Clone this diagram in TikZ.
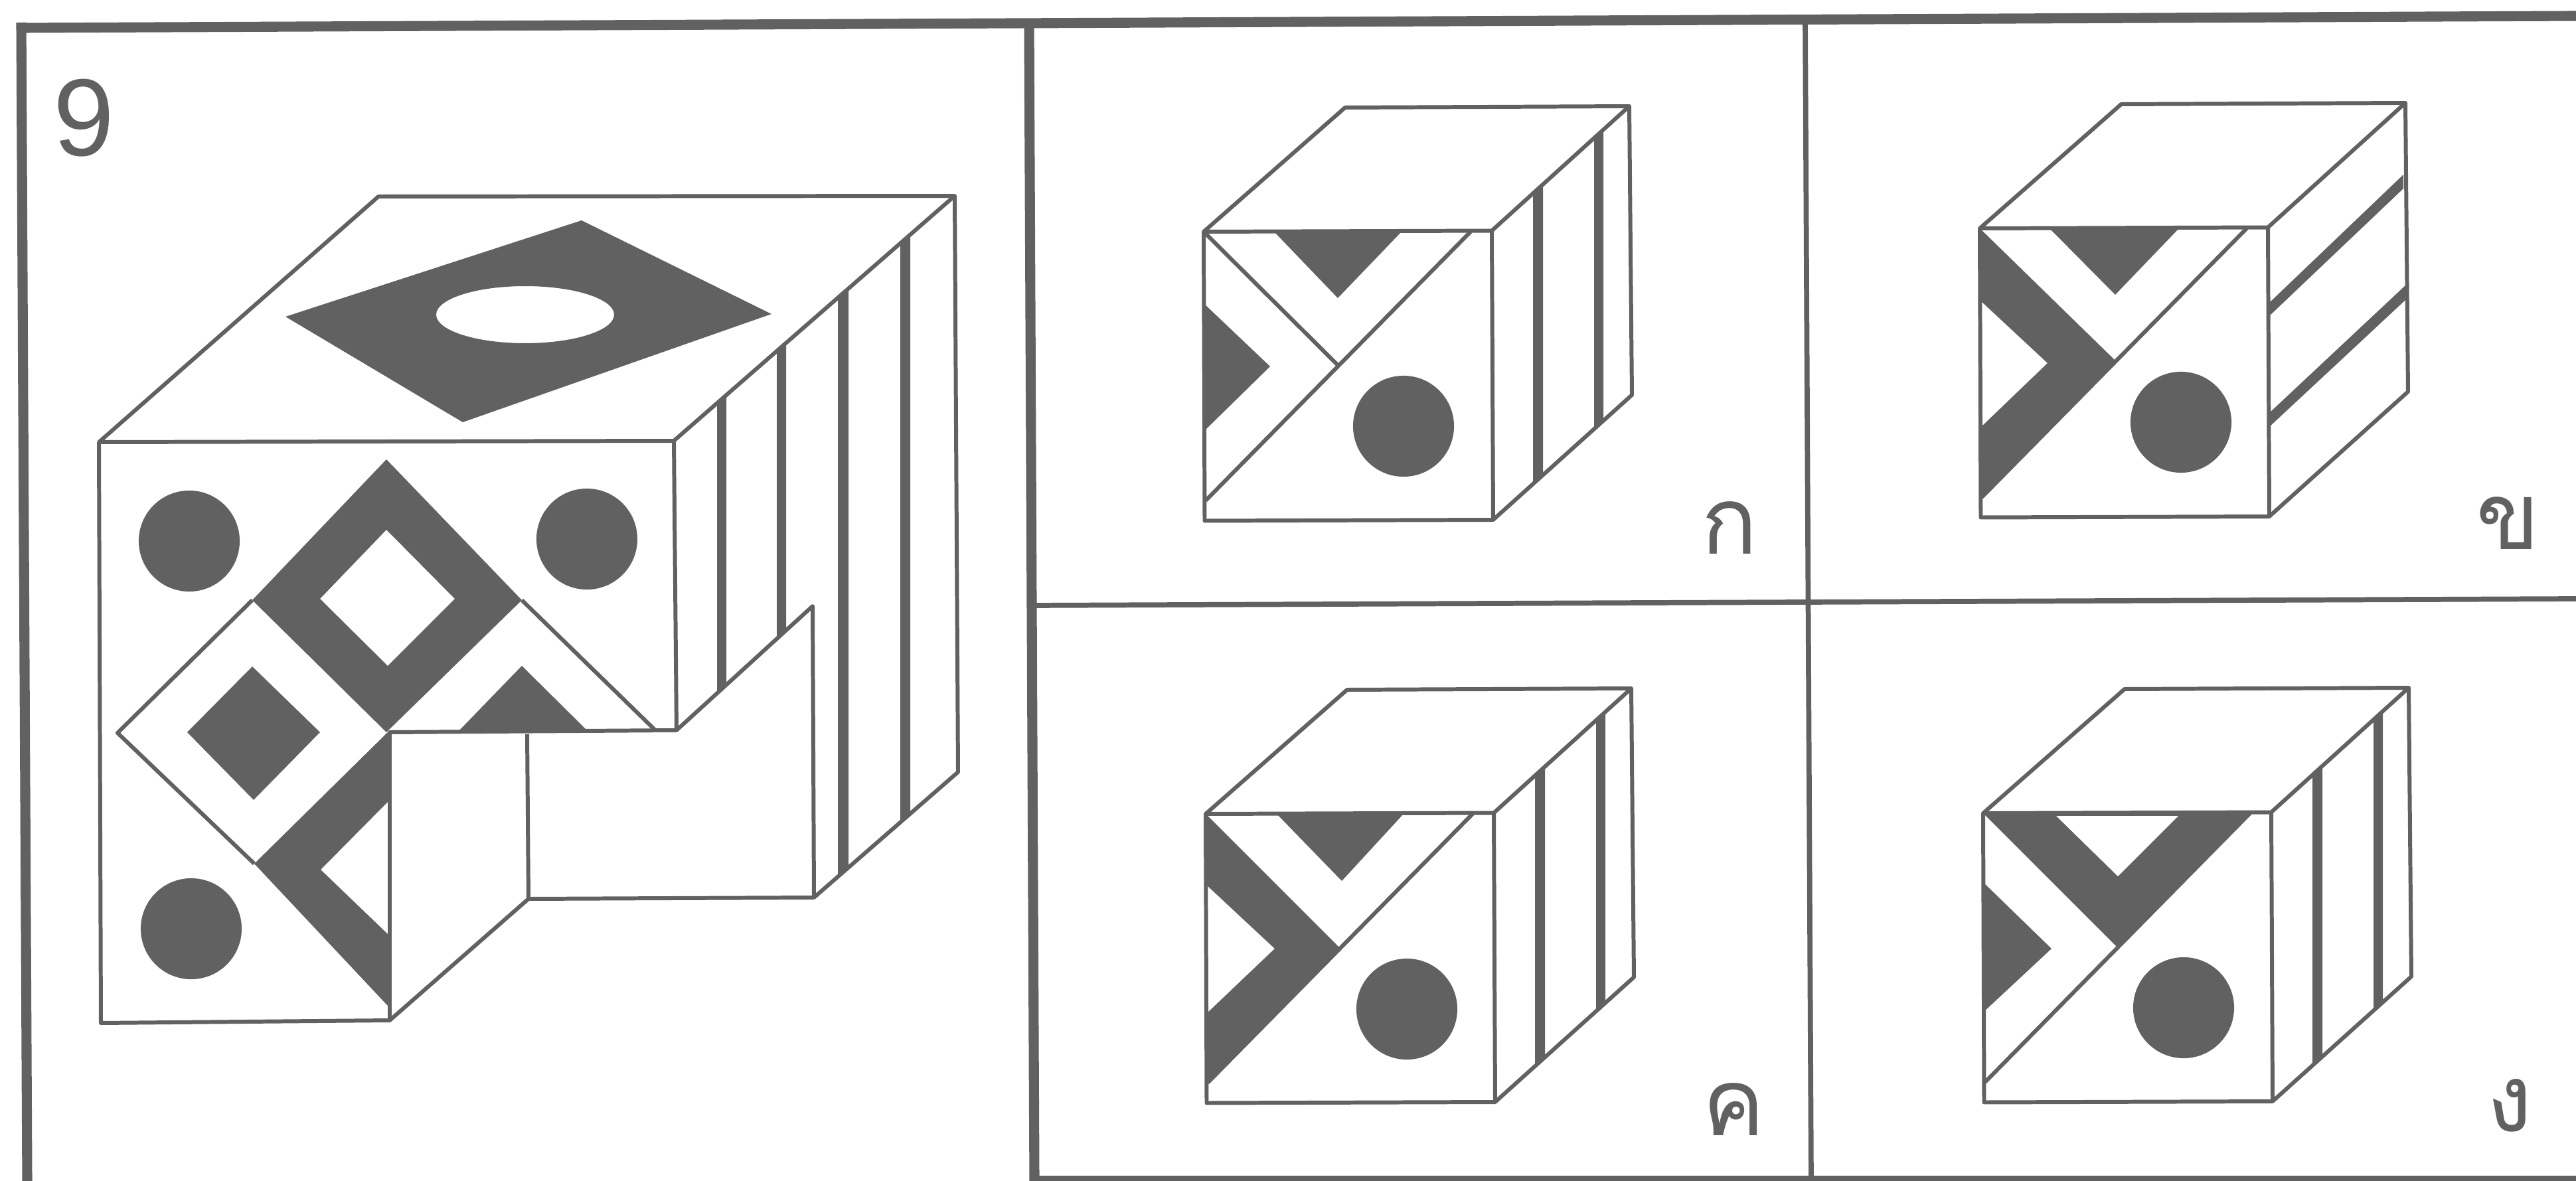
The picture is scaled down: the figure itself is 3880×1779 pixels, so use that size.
\documentclass[tikz,border=0pt]{standalone}
\usepackage{fontspec}
\setmainfont{Liberation Sans}
\newfontfamily\thaifont[Script=Thai]{Loma}
\definecolor{ink}{gray}{0.38}
\usetikzlibrary{calc}

% Outline and side stripes shared by the option cubes
\newcommand{\cubeoutline}{
    \draw[edge] (0,0) -- (213,-187) -- (641,-189) -- (645,246) -- (436,434) -- (1.5,435.5) -- cycle;
    \draw[edge] (0,0) -- (434,-1.5) -- (641,-189);
    \draw[edge] (434,-1.5) -- (436,434);
    \draw[edge] (3,405) -- (402,0);
}
\newcommand{\sidebars}{
    \fill[ink] (496,-57) -- (511,-71) -- (511,366.5) -- (496,380) -- cycle;
    \fill[ink] (588,-140) -- (602,-153) -- (602,284.5) -- (588,297) -- cycle;
}

\begin{document}
\begin{tikzpicture}[
    x=0.01cm,
    y=-0.01cm,
    edge/.style={draw=ink, line width=1.7pt, line join=round},
    heavy/.style={draw=ink, line width=4.3pt},
    thin rule/.style={draw=ink, line width=2.2pt},
    spot/.style={fill=ink, circle, inner sep=0pt, minimum size=1.52cm},
    number/.style={text=ink, inner sep=0pt, font=\fontsize{47}{47}\selectfont},
    choice/.style={text=ink, inner sep=0pt, font=\thaifont\fontsize{40}{40}\selectfont}
]
\useasboundingbox (0,0) rectangle (3880,1779);

% Panel rules
\draw[heavy] (32,42) -- (3880,24);
\draw[heavy] (32,34) -- (41,1779);
\draw[heavy] (1550,33) -- (1558,1779);
\draw[heavy] (1556,1779) -- (3880,1779);
\draw[thin rule] (1552,912) -- (3880,902);
\draw[thin rule] (2719,28) -- (2728,1778);

% Number
\node[number] (nine) at (126,178) {9};

% Main cube, top face
\draw[edge] (149,666) -- (570,296) -- (1438,295) -- (1015,664) -- cycle;
\fill[ink, even odd rule] (430,477) -- (876,332) -- (1162,473) -- (697,636) -- cycle
    (791,474) ellipse [x radius=134, y radius=43];

% Main cube, side stripes
\fill[ink] (1080,607) -- (1094,595) -- (1094,1032) -- (1080,1044) -- cycle;
\fill[ink] (1170,529) -- (1184,517) -- (1184,949) -- (1170,962) -- cycle;
\fill[ink] (1262,449) -- (1278,435) -- (1278,1307) -- (1262,1321) -- cycle;
\fill[ink] (1356,367) -- (1371,353) -- (1371,1226) -- (1356,1239) -- cycle;

% Main cube, front face
\node[spot] (spotA) at (285,815) {};
\node[spot] (spotB) at (884,812) {};
\node[spot] (spotC) at (288,1399) {};
\fill[ink, even odd rule] (582,692) -- (786,904) -- (582,1103) -- (380,904) -- cycle
    (582,798) -- (685,902) -- (584,1003) -- (482,902) -- cycle;
\draw[edge] (380,904) -- (177,1104) -- (383,1301);
\fill[ink] (282,1103) -- (380,1004) -- (482,1103) -- (382,1205) -- cycle;
\draw[edge] (786,904) -- (987,1100);
\fill[ink] (692,1100) -- (786,1003) -- (884,1100) -- cycle;
\fill[ink] (584,1103) -- (383,1301) -- (584,1515) -- (584,1407) -- (483,1310) -- (584,1208) -- cycle;

% Main cube, edges and notch
\draw[edge] (149,666) -- (152,1541) -- (587,1537) -- (587,1103) -- (1019,1100) -- (1015,664);
\draw[edge] (1019,1100) -- (1224,913) -- (1226,1352) -- (1443,1163) -- (1438,295);
\draw[edge] (794,1106) -- (796,1354) -- (1226,1352);
\draw[edge] (587,1537) -- (796,1354);

% Option one
\begin{scope}[shift={(1813,349)}]
    \fill[ink] (106,0) -- (298,0) -- (202,100) -- cycle;
    \fill[ink] (0,108) -- (100,203) -- (0,301) -- cycle;
    \node[spot] (spotD) at (301,293) {};
    \sidebars
    \draw[edge] (3,3) -- (202,201);
    \cubeoutline
\end{scope}
\node[choice] (choiceA) at (2605,795) {ก};

% Option two
\begin{scope}[shift={(2982,344)}]
    \fill[ink] (105,0) -- (300,0) -- (204,100) -- cycle;
    \fill[ink] (0,0) -- (204,199) -- (3,405) -- (0,301) -- (102,203) -- (0,108) -- cycle;
    \node[spot] (spotE) at (303,292) {};
    \fill[ink] (436,112) -- (638,-81) -- (638,-60) -- (436,132) -- cycle;
    \fill[ink] (436,278) -- (641,86) -- (641,108) -- (436,299) -- cycle;
    \cubeoutline
\end{scope}
\node[choice] (choiceB) at (3778,788) {ข};

% Option three
\begin{scope}[shift={(1816,1226)}]
    \fill[ink] (107,0) -- (298,0) -- (205,101) -- cycle;
    \fill[ink] (0,0) -- (203,203) -- (3,405) -- (0,302) -- (104,203) -- (0,106) -- cycle;
    \node[spot] (spotF) at (303,294) {};
    \sidebars
    \cubeoutline
\end{scope}
\node[choice] (choiceC) at (2612,1671) {ค};

% Option four
\begin{scope}[shift={(2987,1225)}]
    \fill[ink] (0,0) -- (405,0) -- (204,204) -- cycle;
    \fill[white] (110,4) -- (294,4) -- (203,95) -- cycle;
    \fill[ink] (0,104) -- (103,204) -- (0,300) -- cycle;
    \node[spot] (spotG) at (302,293) {};
    \sidebars
    \cubeoutline
\end{scope}
\node[choice] (choiceD) at (3780,1665) {ง};

\end{tikzpicture}
\end{document}
